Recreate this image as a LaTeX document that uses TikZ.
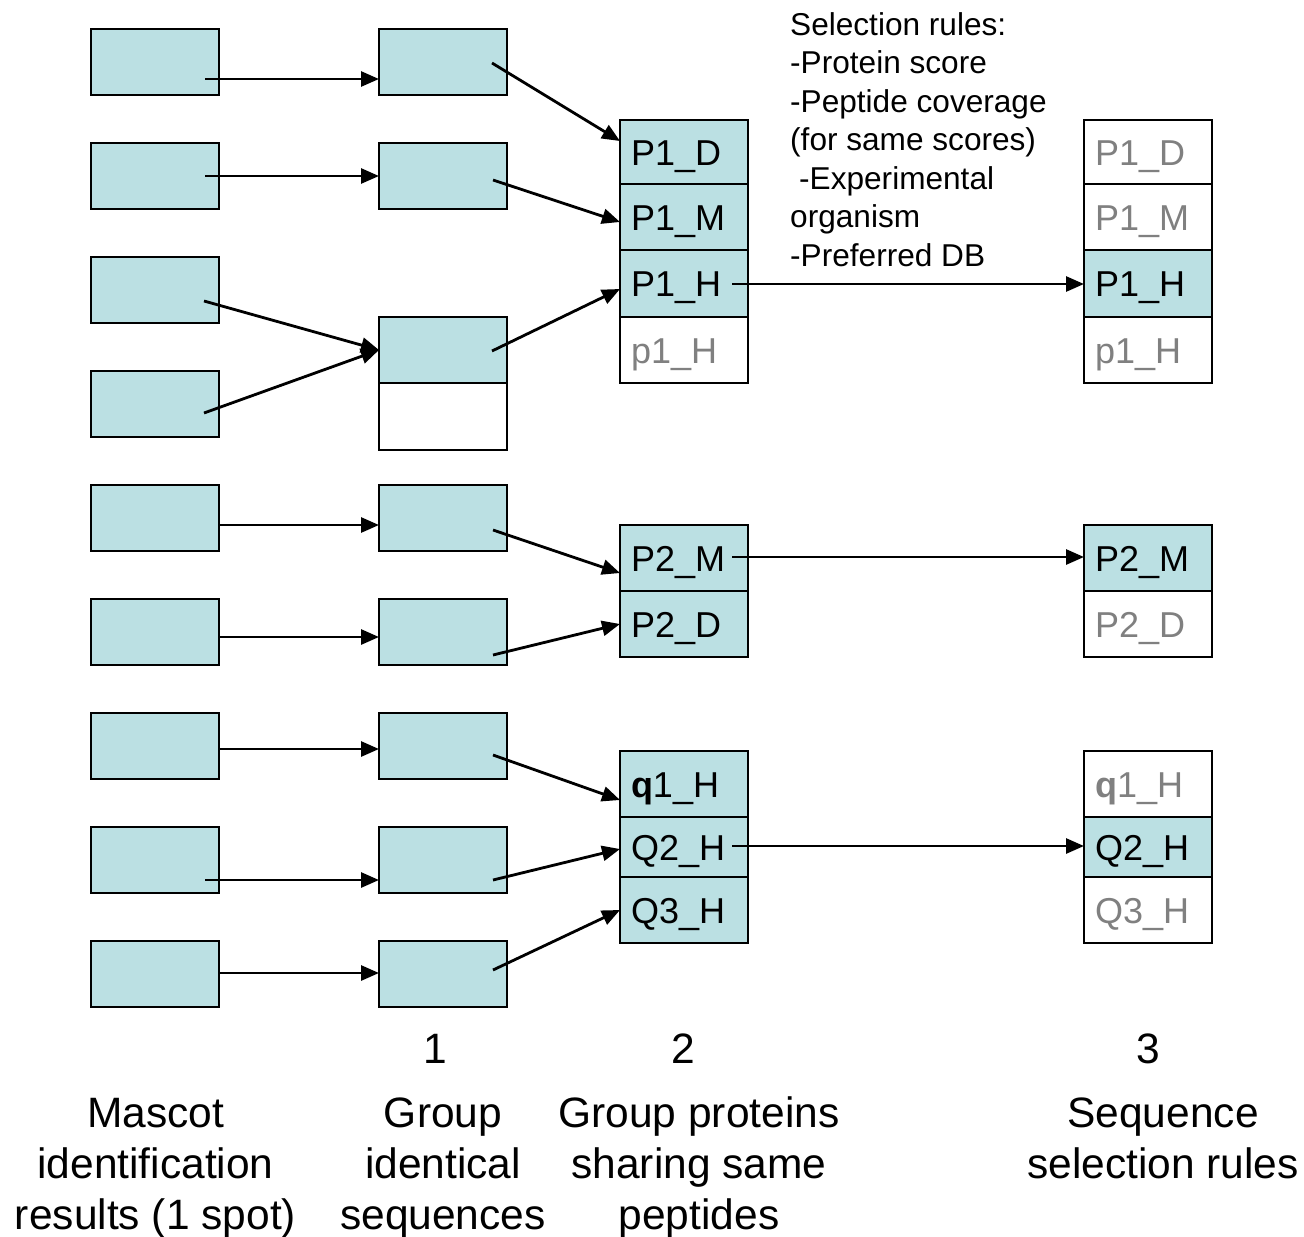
\documentclass[tikz,border=0pt]{standalone}
\usepackage{fontspec}
\setmainfont{Liberation Sans}
\usetikzlibrary{arrows.meta,calc}
\definecolor{boxfill}{RGB}{187,224,227}
\definecolor{dimtext}{RGB}{128,128,128}
\begin{document}
\begin{tikzpicture}[x=1pt,y=-1pt,
  cell/.style={draw=black, line width=2.6pt, minimum width=128pt, inner xsep=11pt, inner ysep=0pt,
    outer sep=0pt, anchor=north west, text width=106pt, align=left, text height=26pt, text depth=0pt,
    font=\fontsize{36}{40}\selectfont},
  bcell/.style={cell, fill=boxfill},
  wcell/.style={cell, fill=white},
  dim/.style={text=dimtext},
  arr/.style={line width=2.8pt, -{Triangle[length=18pt,width=15pt]}},
  bottomtext/.style={align=center, font=\fontsize{42.5}{51}\selectfont, anchor=base},
  numtext/.style={font=\fontsize{42.5}{51}\selectfont, anchor=base}]
\useasboundingbox (0,0) rectangle (1304,1237);

% column A
\foreach \i/\y in {1/29,2/143,3/257,4/371,5/485,6/599,7/713,8/827,9/941}
  \node[bcell, minimum height=66pt] (A\i) at (91,\y) {};

% column B
\node[bcell, minimum height=66pt] (B1) at (379,29) {};
\node[bcell, minimum height=66pt] (B2) at (379,143) {};
\node[bcell, minimum height=66pt] (B3) at (379,317) {};
\node[wcell, minimum height=67pt] (B3x) at (379,383) {};
\node[bcell, minimum height=66pt] (B5) at (379,485) {};
\node[bcell, minimum height=66pt] (B6) at (379,599) {};
\node[bcell, minimum height=66pt] (B7) at (379,713) {};
\node[bcell, minimum height=66pt] (B8) at (379,827) {};
\node[bcell, minimum height=66pt] (B9) at (379,941) {};

% column C
\node[bcell, minimum height=64pt] (C11) at (620,120) {P1\_D};
\node[bcell, minimum height=66pt] (C12) at (620,184) {P1\_M};
\node[bcell, minimum height=67pt] (C13) at (620,250) {P1\_H};
\node[wcell, dim, minimum height=66pt] (C14) at (620,317) {p1\_H};
\node[bcell, minimum height=66pt] (C21) at (620,525) {P2\_M};
\node[bcell, minimum height=66pt] (C22) at (620,591) {P2\_D};
\node[bcell, minimum height=66pt] (C31) at (620,751) {{\bfseries q}1\_H};
\node[bcell, minimum height=60pt] (C32) at (620,817) {Q2\_H};
\node[bcell, minimum height=66pt] (C33) at (620,877) {Q3\_H};

% column D
\node[wcell, dim, minimum height=64pt] (D11) at (1084,120) {P1\_D};
\node[wcell, dim, minimum height=66pt] (D12) at (1084,184) {P1\_M};
\node[bcell, minimum height=67pt] (D13) at (1084,250) {P1\_H};
\node[wcell, dim, minimum height=66pt] (D14) at (1084,317) {p1\_H};
\node[bcell, minimum height=66pt] (D21) at (1084,525) {P2\_M};
\node[wcell, dim, minimum height=66pt] (D22) at (1084,591) {P2\_D};
\node[wcell, dim, minimum height=66pt] (D31) at (1084,751) {{\bfseries q}1\_H};
\node[bcell, minimum height=60pt] (D32) at (1084,817) {Q2\_H};
\node[wcell, dim, minimum height=66pt] (D33) at (1084,877) {Q3\_H};

% start points of connectors
\coordinate (a1) at (205,79);
\coordinate (a2) at (205,176);
\coordinate (a3) at (204,301);
\coordinate (a4) at (204,413);
\coordinate (a5) at (218,525);
\coordinate (a6) at (218,637);
\coordinate (a7) at (218,749);
\coordinate (a8) at (205,880);
\coordinate (a9) at (218,973);
\coordinate (b1) at (492,63);
\coordinate (b2) at (493,180);
\coordinate (b3) at (492,351);
\coordinate (b5) at (493,530);
\coordinate (b6) at (493,655);
\coordinate (b7) at (493,755);
\coordinate (b8) at (493,880);
\coordinate (b9) at (493,970);
\coordinate (c1) at (732,284);
\coordinate (c2) at (732,557);
\coordinate (c3) at (732,846);

% A -> B
\draw[arr] (a1) -- (a1 -| B1.west);
\draw[arr] (a2) -- (a2 -| B2.west);
\draw[arr] (a3) -- ($(B3.north west)+(0,33)$);
\draw[arr] (a4) -- ($(B3.north west)+(0,33)$);
\draw[arr] (a5) -- (a5 -| B5.west);
\draw[arr] (a6) -- (a6 -| B6.west);
\draw[arr] (a7) -- (a7 -| B7.west);
\draw[arr] (a8) -- (a8 -| B8.west);
\draw[arr] (a9) -- (a9 -| B9.west);

% B -> C
\draw[arr] (b1) -- ($(C11.north west)+(0,21)$);
\draw[arr] (b2) -- ($(C12.north west)+(0,38)$);
\draw[arr] (b3) -- ($(C13.north west)+(0,39)$);
\draw[arr] (b5) -- ($(C21.north west)+(0,48)$);
\draw[arr] (b6) -- ($(C22.north west)+(0,33)$);
\draw[arr] (b7) -- ($(C31.north west)+(0,49)$);
\draw[arr] (b8) -- ($(C32.north west)+(0,32)$);
\draw[arr] (b9) -- ($(C33.north west)+(0,33)$);

% C -> D
\draw[arr] (c1) -- (c1 -| D13.west);
\draw[arr] (c2) -- (c2 -| D21.west);
\draw[arr] (c3) -- (c3 -| D32.west);

% selection rules (anchor is the baseline of the last line)
\node[anchor=base west, align=left, inner sep=0pt, font=\fontsize{31.6}{38.5}\selectfont] (rules) at (790,266)
  {Selection rules:\\-Protein score\\-Peptide coverage\\(for same scores)\\\hspace*{9pt}-Experimental\\organism\\-Preferred DB};

% numbers
\node[numtext, inner sep=0pt] (n1) at (435,1063) {1};
\node[numtext, inner sep=0pt] (n2) at (683,1063) {2};
\node[numtext, inner sep=0pt] (n3) at (1148,1063) {3};

% captions (anchor is the baseline of the last line)
\node[bottomtext, inner sep=0pt] (capA) at (155.5,1229) {Mascot\\identification\\results (1 spot)};
\node[bottomtext, inner sep=0pt] (capB) at (443,1229) {Group\\identical\\sequences};
\node[bottomtext, inner sep=0pt] (capC) at (699,1229) {Group proteins\\sharing same\\peptides};
\node[bottomtext, inner sep=0pt] (capD) at (1163,1178) {Sequence\\selection rules};
\end{tikzpicture}
\end{document}
